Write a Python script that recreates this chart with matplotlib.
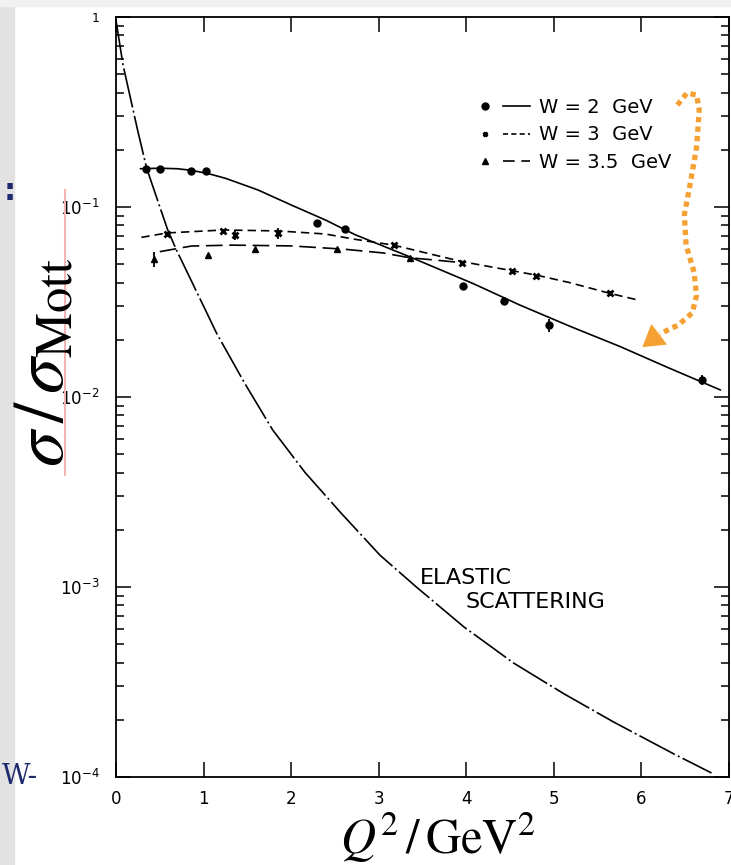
import matplotlib.pyplot as plt
from matplotlib.lines import Line2D
from matplotlib.legend_handler import HandlerTuple
from matplotlib.ticker import LogLocator, NullFormatter, FixedLocator
from matplotlib.patches import Rectangle

# W = 2 GeV : dots, solid line
q2_w2 = [0.34, 0.50, 0.86, 1.03, 2.29, 2.61, 3.96, 4.43, 4.95, 6.69]
r_w2 = [0.158, 0.158, 0.155, 0.154, 0.0827, 0.0769, 0.0384, 0.0320, 0.0239, 0.0123]
e_w2 = [0, 0, 0, 0, 0, 0, 0, 0, 0.0018, 0.0008]
fit_q2_w2 = [0.28, 0.5, 0.7, 0.86, 1.05, 1.25, 1.62, 2.0, 2.39, 2.73, 3.32, 4.08, 4.61, 5.18, 5.76, 6.3, 6.9]
fit_r_w2 = [0.159, 0.160, 0.159, 0.156, 0.150, 0.1416, 0.123, 0.1025, 0.0855, 0.0715, 0.0555, 0.0395, 0.0305, 0.0236, 0.0184, 0.0143, 0.0109]

# W = 3 GeV : crosses, short dashes
q2_w3 = [0.58, 1.225, 1.36, 1.85, 3.17, 3.95, 4.52, 4.80, 5.64]
r_w3 = [0.0721, 0.075, 0.0712, 0.0727, 0.063, 0.0509, 0.0462, 0.0433, 0.0351]
e_w3 = [0, 0, 0.0045, 0.005, 0.002, 0, 0, 0, 0]
fit_q2_w3 = [0.29, 0.58, 1.23, 1.86, 2.39, 2.73, 3.17, 3.95, 4.8, 5.18, 5.64, 5.96]
fit_r_w3 = [0.0692, 0.073, 0.0757, 0.0748, 0.0721, 0.0676, 0.063, 0.0516, 0.0438, 0.040, 0.0351, 0.0324]

# W = 3.5 GeV : triangles, long dashes
q2_w35 = [0.43, 1.05, 1.59, 2.52, 3.36]
r_w35 = [0.053, 0.0559, 0.0603, 0.0603, 0.0537]
e_w35 = [0.0048, 0, 0, 0, 0]
fit_q2_w35 = [0.50, 0.86, 1.32, 2.0, 2.6, 3.05, 3.36, 3.62, 3.9]
fit_r_w35 = [0.0582, 0.0623, 0.063, 0.0624, 0.0600, 0.0573, 0.0540, 0.0527, 0.0512]

# elastic scattering curve
q2_el = [0.0, 0.08, 0.25, 0.35, 0.59, 0.69, 0.845, 1.15, 1.47, 1.79, 2.16, 2.57, 3.015, 3.43, 3.97, 4.54,
         5.11, 5.68, 6.36, 6.8]
r_el = [0.96, 0.56, 0.25, 0.16, 0.0758, 0.0594, 0.0423, 0.0216, 0.0118, 0.0067, 0.0040, 0.00245, 0.00147, 0.00100,
        0.000618, 0.000398, 0.000275, 0.000195, 0.000133, 0.000105]

# orange annotation arrow (slide overlay)
arrow_x = [6.41, 6.52, 6.63, 6.66, 6.63, 6.55, 6.49, 6.51, 6.60, 6.63, 6.58, 6.42, 6.21]
arrow_y = [0.344, 0.398, 0.3886, 0.324, 0.207, 0.127, 0.0908, 0.0631, 0.0455, 0.0344, 0.0277, 0.0239, 0.0215]
arrow_tip = (6.01, 0.0183)

legend_labels = ['W = 2  GeV', 'W = 3  GeV', 'W = 3.5  GeV']
ytick_vals = [1e-4, 1e-3, 1e-2, 1e-1, 1]
ytick_text = [r'$10^{-4}$', r'$10^{-3}$', r'$10^{-2}$', r'$10^{-1}$', '1']
xtick_vals = [0, 1, 2, 3, 4, 5, 6, 7]

orange = '#F5A032'
navy = '#1d2a6e'

fig = plt.figure(figsize=(7.31, 8.65), dpi=100)
W, H = 731, 865

# slide background bits
fig.patches.append(Rectangle((0, 0), 14 / W, 1, transform=fig.transFigure, color='#e2e2e2', zorder=0))
fig.patches.append(Rectangle((0, 1 - 6 / H), 1, 6 / H, transform=fig.transFigure, color='#f1f1f1', zorder=0))
fig.text(2 / W, 1 - 777 / H, 'W-', color=navy, family='DejaVu Serif', fontsize=20, va='center', ha='left')
fig.text(4 / W, 1 - 192 / H, ':', color=navy, family='DejaVu Sans', fontsize=22, weight='bold', va='center', ha='left')

ax = fig.add_axes([116 / W, 1 - 777 / H, 613 / W, 760 / H])
ax.set_yscale('log')
ax.set_xlim(0, 7)
ax.set_ylim(1e-4, 1)

lw = 1.2
ax.plot(fit_q2_w2, fit_r_w2, color='k', lw=lw)
ax.plot(fit_q2_w3, fit_r_w3, color='k', lw=lw, dashes=(5, 3))
ax.plot(fit_q2_w35, fit_r_w35, color='k', lw=lw, dashes=(10, 4))
ax.plot(q2_el, r_el, color='k', lw=lw, dashes=(24, 2, 1.2, 2))

ax.errorbar(q2_w2, r_w2, yerr=e_w2, fmt='o', ms=5, color='k', elinewidth=1.3, capsize=0)
ax.errorbar(q2_w3, r_w3, yerr=e_w3, fmt='x', ms=4, mew=2, color='k', elinewidth=1.3, capsize=0)
ax.errorbar(q2_w35, r_w35, yerr=e_w35, fmt='^', ms=5, color='k', elinewidth=1.3, capsize=0)

ax.text(3.47, 0.00111, 'ELASTIC', fontsize=16, va='center', ha='left')
ax.text(3.99, 0.00083, 'SCATTERING', fontsize=16, va='center', ha='left')

# legend: marker then line
h2 = (Line2D([], [], ls='none', marker='o', ms=5, color='k'), Line2D([], [], color='k', lw=lw))
h3 = (Line2D([], [], ls='none', marker='x', ms=3.5, mew=2, color='k'), Line2D([], [], color='k', lw=lw, dashes=(3, 2)))
h35 = (Line2D([], [], ls='none', marker='^', ms=4.5, color='k'), Line2D([], [], color='k', lw=lw, dashes=(7, 4)))
ax.legend([h2, h3, h35], legend_labels, handler_map={tuple: HandlerTuple(ndivide=None, pad=0.2)},
          loc='upper left', bbox_to_anchor=(0.58, 0.894), frameon=False, fontsize=14,
          handlelength=3.0, handletextpad=0.45, labelspacing=0.45, borderaxespad=0, borderpad=0)

# orange squiggle arrow
ax.plot(arrow_x, arrow_y, color=orange, lw=3.8, dashes=(1, 0.8), dash_capstyle='butt', solid_capstyle='butt')
ax.annotate('', xy=arrow_tip, xytext=(arrow_x[-1], arrow_y[-1]),
            arrowprops=dict(arrowstyle='-|>,head_length=0.9,head_width=0.55', color=orange, lw=0,
                            shrinkA=0, shrinkB=0, mutation_scale=17))

# ticks
ax.yaxis.set_major_locator(FixedLocator(ytick_vals))
ax.set_yticklabels(ytick_text)
ax.yaxis.set_minor_locator(LogLocator(base=10, subs=range(2, 10), numticks=20))
ax.yaxis.set_minor_formatter(NullFormatter())
ax.set_xticks(xtick_vals)
ax.set_xticklabels([str(v) for v in xtick_vals])
ax.tick_params(which='both', direction='in', top=True, right=True, width=1.1, labelsize=12)
ax.tick_params(which='major', length=11)
ax.tick_params(which='minor', length=6)
ax.tick_params(axis='y', pad=12)
ax.tick_params(axis='x', pad=9)
ax.get_yticklabels()[-1].set_fontsize(9)
for s in ax.spines.values():
    s.set_linewidth(1.3)

# axis titles (slide overlay, serif)
fig.text(43 / W, 1 - 362 / H, r'$\sigma\,/\,\sigma_{\mathrm{Mott}}$', rotation=90, fontsize=52,
         math_fontfamily='stix', ha='center', va='center')
fig.add_artist(Line2D([65 / W, 65 / W], [1 - 190 / H, 1 - 475 / H], transform=fig.transFigure,
                      color='#f2b5b5', lw=1.5))
fig.text(438 / W, 1 - 838 / H, r'$Q^2\,/\,\mathrm{GeV}^2$', fontsize=35,
         math_fontfamily='stix', ha='center', va='center')

fig.savefig('out.png', dpi=100)
